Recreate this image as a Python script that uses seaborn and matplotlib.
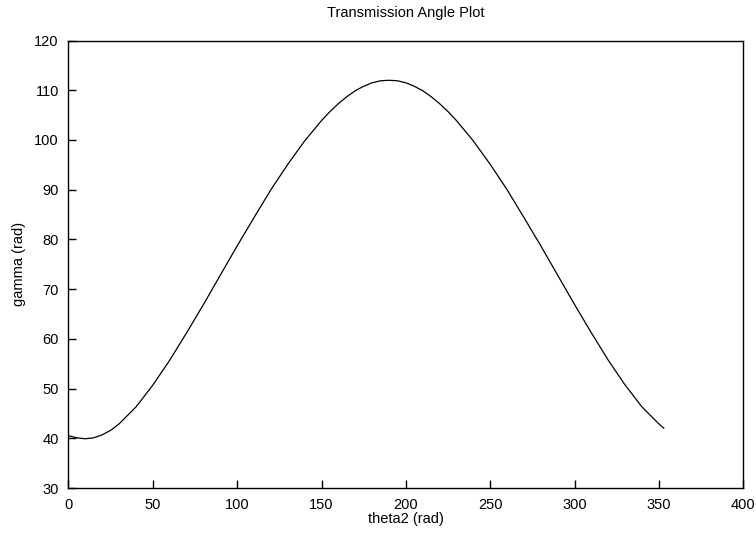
import numpy as np
import pandas as pd
import matplotlib
matplotlib.use("Agg")
import matplotlib.pyplot as plt
import seaborn as sns

# data
theta2 = [0, 5, 10, 15, 20, 25, 30, 40, 50, 60, 70, 80, 90, 100, 110, 120, 130, 140, 150,
          155, 160, 165, 170, 175, 180, 185, 190, 195, 200, 205, 210, 215, 220, 225, 230,
          240, 250, 260, 270, 280, 290, 300, 310, 320, 330, 340, 350, 353]
gamma = [40.5, 40.1, 39.9, 40.1, 40.7, 41.6, 42.9, 46.3, 50.7, 55.7, 61.2, 66.9, 72.8,
         78.7, 84.4, 90.0, 95.1, 99.8, 103.9, 105.7, 107.3, 108.7, 109.9, 110.8, 111.5,
         111.9, 112.0, 111.9, 111.5, 110.8, 109.9, 108.7, 107.3, 105.7, 103.9, 99.8, 95.1,
         90.0, 84.4, 78.7, 72.8, 66.9, 61.2, 55.7, 50.7, 46.3, 42.9, 42.0]
xticks = [0, 50, 100, 150, 200, 250, 300, 350, 400]
yticks = [30, 40, 50, 60, 70, 80, 90, 100, 110, 120]

df = pd.DataFrame({"theta2": theta2, "gamma": gamma})

sns.set_style("ticks")
plt.rcParams["font.family"] = ["Liberation Sans", "DejaVu Sans"]
plt.rcParams["text.color"] = "black"
plt.rcParams["axes.labelcolor"] = "black"

fig = plt.figure(figsize=(7.56, 5.33), dpi=100)
ax = fig.add_axes([0.0906, 0.0844, 0.8925, 0.8396])

sns.lineplot(data=df, x="theta2", y="gamma", ax=ax, color="black", linewidth=0.9,
             sort=False, estimator=None)

ax.set_xlim(0, 400)
ax.set_ylim(30, 120)
ax.set_xticks(xticks)
ax.set_yticks(yticks)
ax.tick_params(direction="in", length=6, width=1, colors="black", labelsize=10.5,
               top=False, right=False)
ax.tick_params(axis="x", pad=7)
ax.tick_params(axis="y", pad=7)
for s in ax.spines.values():
    s.set_visible(True)
    s.set_color("black")
    s.set_linewidth(1.0)

ax.set_title("Transmission Angle Plot", fontsize=10.5, pad=17, color="black")
ax.set_xlabel("theta2 (rad)", fontsize=10.5, labelpad=0)
ax.set_ylabel("gamma (rad)", fontsize=10.5, labelpad=6)

fig.savefig("out.png", dpi=100)
